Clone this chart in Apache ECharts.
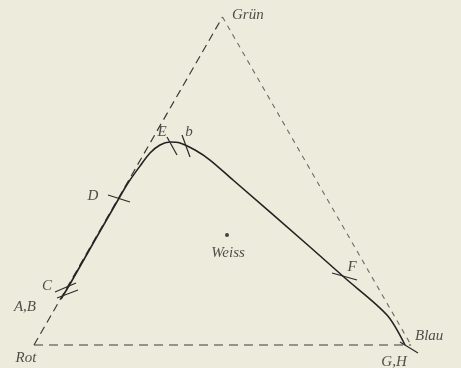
<!DOCTYPE html>
<html>
<head>
<meta charset="utf-8">
<script src="https://cdn.jsdelivr.net/npm/echarts@6/dist/echarts.min.js"></script>
<style>
html, body { margin: 0; padding: 0; background: #edecdc; }
#main { width: 461px; height: 368px; }
</style>
</head>
<body>
<div id="main"></div>
<script>
// Farbendreieck: Rot (0,0), Blau (1,0), Grün (0.5, 0.866)
var corners = [[0, 0], [0.5, 0.870], [1.0, 0]];
var cornerNames = ['Rot', 'Grün', 'Blau'];

// Spektralkurve
var curve = [
    [0.0716, 0.1220], [0.0955, 0.1618], [0.1618, 0.2785], [0.2228, 0.3846],
    [0.2493, 0.4297], [0.2812, 0.4748], [0.3077, 0.5093], [0.3342, 0.5305],
    [0.3607, 0.5385], [0.3873, 0.5358], [0.4271, 0.5172], [0.4668, 0.4907],
    [0.5279, 0.4377], [0.7321, 0.2599], [0.8249, 0.1777], [0.9363, 0.0796],
    [0.9841, 0.0]
];

// Querstriche an der Kurve (Anfang, Ende)
var ticks = [
    [[0.0557, 0.1406], [0.1114, 0.1645]],
    [[0.0610, 0.1247], [0.1167, 0.1459]],
    [[0.1963, 0.3979], [0.2546, 0.3793]],
    [[0.3528, 0.5517], [0.3793, 0.5040]],
    [[0.3926, 0.5570], [0.4138, 0.4987]],
    [[0.7905, 0.1910], [0.8568, 0.1724]],
    [[0.9708, 0.0080], [1.0186, -0.0212]]
];

var white = [0.5119, 0.2918];

// Beschriftungen: [x, y, text, ausrichtung]
var labels = [
    [0.5252, 0.8753, 'Grün', 'left'],
    [0.3395, 0.5650, 'E', 'center'],
    [0.4111, 0.5650, 'b', 'center'],
    [0.1565, 0.3952, 'D', 'center'],
    [0.0345, 0.1565, 'C', 'center'],
    [-0.0239, 0.1008, 'A,B', 'center'],
    [-0.0212, -0.0345, 'Rot', 'center'],
    [0.5146, 0.2440, 'Weiss', 'center'],
    [0.8435, 0.2069, 'F', 'center'],
    [1.0106, 0.0239, 'Blau', 'left'],
    [0.9549, -0.0451, 'G,H', 'center']
];

function seg(a, b, dash, color, width) {
    return {
        type: 'line',
        data: [a, b],
        symbol: 'none',
        silent: true,
        lineStyle: { color: color, width: width, type: dash }
    };
}

var series = [];
series.push(seg(corners[0], corners[1], [8, 5], '#3a3a3a', 1.2));
series.push(seg(corners[0], corners[2], [9, 6], '#3a3a3a', 1.2));
series.push(seg(corners[1], corners[2], [5, 5], '#6a6a6a', 1.1));

series.push({
    type: 'line',
    data: curve,
    symbol: 'none',
    smooth: 0.3,
    lineStyle: { color: '#222', width: 1.6 }
});

ticks.forEach(function (t) {
    series.push(seg(t[0], t[1], 'solid', '#2a2a2a', 1.2));
});

series.push({
    type: 'scatter',
    data: [white],
    symbolSize: 4,
    itemStyle: { color: '#1a1a1a' }
});

series.push({
    type: 'scatter',
    symbolSize: 0,
    data: labels.map(function (l) {
        return {
            value: [l[0], l[1]],
            label: { align: l[3] }
        };
    }),
    label: {
        show: true,
        position: 'inside',
        formatter: function (p) { return labels[p.dataIndex][2]; },
        fontFamily: 'Liberation Serif',
        fontStyle: 'italic',
        fontSize: 15,
        color: '#262626'
    }
});

var myChart = echarts.init(document.getElementById('main'));
myChart.setOption({
    backgroundColor: '#edecdc',
    animation: false,
    grid: { left: 0, right: 0, top: 0, bottom: 0 },
    xAxis: { type: 'value', min: -0.0902, max: 1.1326, show: false },
    yAxis: { type: 'value', min: -0.0610, max: 0.9151, show: false },
    series: series
});
</script>
</body>
</html>
